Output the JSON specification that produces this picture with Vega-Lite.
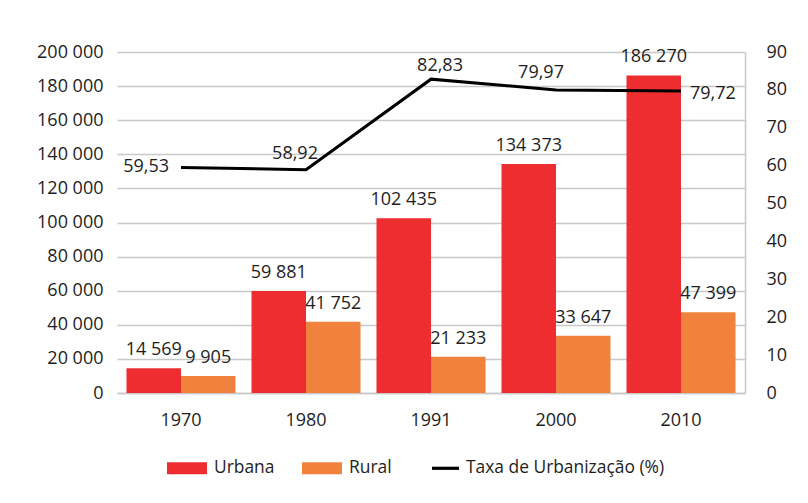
{
  "$schema": "https://vega.github.io/schema/vega-lite/v6.json",
  "width": 628,
  "height": 341,
  "autosize": {"type": "none"},
  "padding": {"left": 117, "top": 52, "right": 63, "bottom": 110},
  "background": "white",
  "config": {
    "locale": {"number": {"decimal": ",", "thousands": " ", "grouping": [3], "currency": ["", ""]}},
    "font": "Open Sans",
    "view": {"stroke": null},
    "axis": {
      "labelFont": "Open Sans",
      "labelFontSize": 18,
      "labelColor": "#1e1e1e",
      "ticks": false,
      "title": null,
      "domainColor": "#c8c8c8",
      "gridColor": "#c8c8c8",
      "domainWidth": 1.5,
      "gridWidth": 1.3
    },
    "text": {"font": "Open Sans", "fontSize": 18, "fill": "#1e1e1e"}
  },
  "datasets": {
    "barras": [
      {"ano": "1970", "serie": "Urbana", "valor": 14569},
      {"ano": "1970", "serie": "Rural", "valor": 9905},
      {"ano": "1980", "serie": "Urbana", "valor": 59881},
      {"ano": "1980", "serie": "Rural", "valor": 41752},
      {"ano": "1991", "serie": "Urbana", "valor": 102435},
      {"ano": "1991", "serie": "Rural", "valor": 21233},
      {"ano": "2000", "serie": "Urbana", "valor": 134373},
      {"ano": "2000", "serie": "Rural", "valor": 33647},
      {"ano": "2010", "serie": "Urbana", "valor": 186270},
      {"ano": "2010", "serie": "Rural", "valor": 47399}
    ],
    "taxa": [
      {"ano": "1970", "serie": "Taxa de Urbanização (%)", "taxa": 59.53},
      {"ano": "1980", "serie": "Taxa de Urbanização (%)", "taxa": 58.92},
      {"ano": "1991", "serie": "Taxa de Urbanização (%)", "taxa": 82.83},
      {"ano": "2000", "serie": "Taxa de Urbanização (%)", "taxa": 79.97},
      {"ano": "2010", "serie": "Taxa de Urbanização (%)", "taxa": 79.72}
    ]
  },
  "encoding": {
    "x": {
      "field": "ano",
      "type": "nominal",
      "sort": null,
      "title": null,
      "scale": {"paddingInner": 0.128, "paddingOuter": 0.076},
      "axis": {"labelAngle": 0, "labelPadding": 18, "domain": true, "grid": false}
    }
  },
  "layer": [
    {
      "data": {"name": "barras"},
      "encoding": {
        "y": {
          "field": "valor",
          "type": "quantitative",
          "title": null,
          "scale": {"domain": [0, 200000], "nice": false},
          "axis": {
            "orient": "left",
            "values": [0, 20000, 40000, 60000, 80000, 100000, 120000, 140000, 160000, 180000, 200000],
            "format": ",d",
            "grid": true,
            "domain": false,
            "labelPadding": 14
          }
        },
        "xOffset": {"field": "serie", "type": "nominal", "sort": ["Urbana", "Rural"], "scale": {"paddingInner": 0, "paddingOuter": 0}}
      },
      "layer": [
        {
          "mark": {"type": "bar"},
          "encoding": {
            "color": {
              "field": "serie",
              "type": "nominal",
              "scale": {"domain": ["Urbana", "Rural", "Taxa de Urbanização (%)"], "range": ["#EE2D31", "#F0823D", "#000000"]},
              "legend": {
                "title": null,
                "orient": "none",
                "legendX": 50,
                "legendY": 396,
                "direction": "horizontal",
                "symbolSize": 1600,
                "symbolStrokeWidth": 0,
                "labelFont": "Open Sans",
                "labelFontSize": 17.4,
                "labelColor": "#1e1e1e",
                "labelOffset": 7,
                "labelLimit": 400,
                "columnPadding": 27,
                "encode": {
                  "symbols": {
                    "update": {
                      "shape": {"signal": "datum.value === 'Taxa de Urbanização (%)' ? 'M-0.35,-0.08H1V0.08H-0.35Z' : 'M-1,-0.3H1V0.3H-1Z'"},
                      "fill": {"signal": "scale('color', datum.value)"},
                      "stroke": {"value": "transparent"},
                      "size": {"value": 1600},
                      "opacity": {"value": 1}
                    }
                  }
                }
              }
            }
          }
        },
        {
          "mark": {"type": "text", "baseline": "alphabetic", "align": "center", "dy": -13},
          "encoding": {
            "text": {"field": "valor", "type": "quantitative", "format": ",d"}
          }
        }
      ]
    },
    {
      "data": {"name": "taxa"},
      "encoding": {
        "y": {
          "field": "taxa",
          "type": "quantitative",
          "title": null,
          "scale": {"domain": [0, 90], "nice": false},
          "axis": {
            "orient": "right",
            "values": [0, 10, 20, 30, 40, 50, 60, 70, 80, 90],
            "grid": false,
            "domain": true,
            "labelPadding": 21
          }
        }
      },
      "layer": [
        {
          "mark": {"type": "line", "strokeWidth": 3, "strokeCap": "butt"},
          "encoding": {
            "color": {"field": "serie", "type": "nominal"}
          }
        },
        {
          "transform": [{"filter": "datum.ano === '1970'"}],
          "mark": {"type": "text", "align": "right", "baseline": "middle", "dx": -12, "dy": 0},
          "encoding": {"text": {"field": "taxa", "type": "quantitative", "format": ".2f"}}
        },
        {
          "transform": [{"filter": "datum.ano === '1980'"}],
          "mark": {"type": "text", "align": "center", "baseline": "alphabetic", "dx": -11, "dy": -11},
          "encoding": {"text": {"field": "taxa", "type": "quantitative", "format": ".2f"}}
        },
        {
          "transform": [{"filter": "datum.ano === '1991'"}],
          "mark": {"type": "text", "align": "center", "baseline": "alphabetic", "dx": 9, "dy": -8},
          "encoding": {"text": {"field": "taxa", "type": "quantitative", "format": ".2f"}}
        },
        {
          "transform": [{"filter": "datum.ano === '2000'"}],
          "mark": {"type": "text", "align": "center", "baseline": "alphabetic", "dx": -15, "dy": -12},
          "encoding": {"text": {"field": "taxa", "type": "quantitative", "format": ".2f"}}
        },
        {
          "transform": [{"filter": "datum.ano === '2010'"}],
          "mark": {"type": "text", "align": "left", "baseline": "middle", "dx": 9, "dy": 3},
          "encoding": {"text": {"field": "taxa", "type": "quantitative", "format": ".2f"}}
        }
      ]
    }
  ],
  "resolve": {"scale": {"y": "independent"}}
}
